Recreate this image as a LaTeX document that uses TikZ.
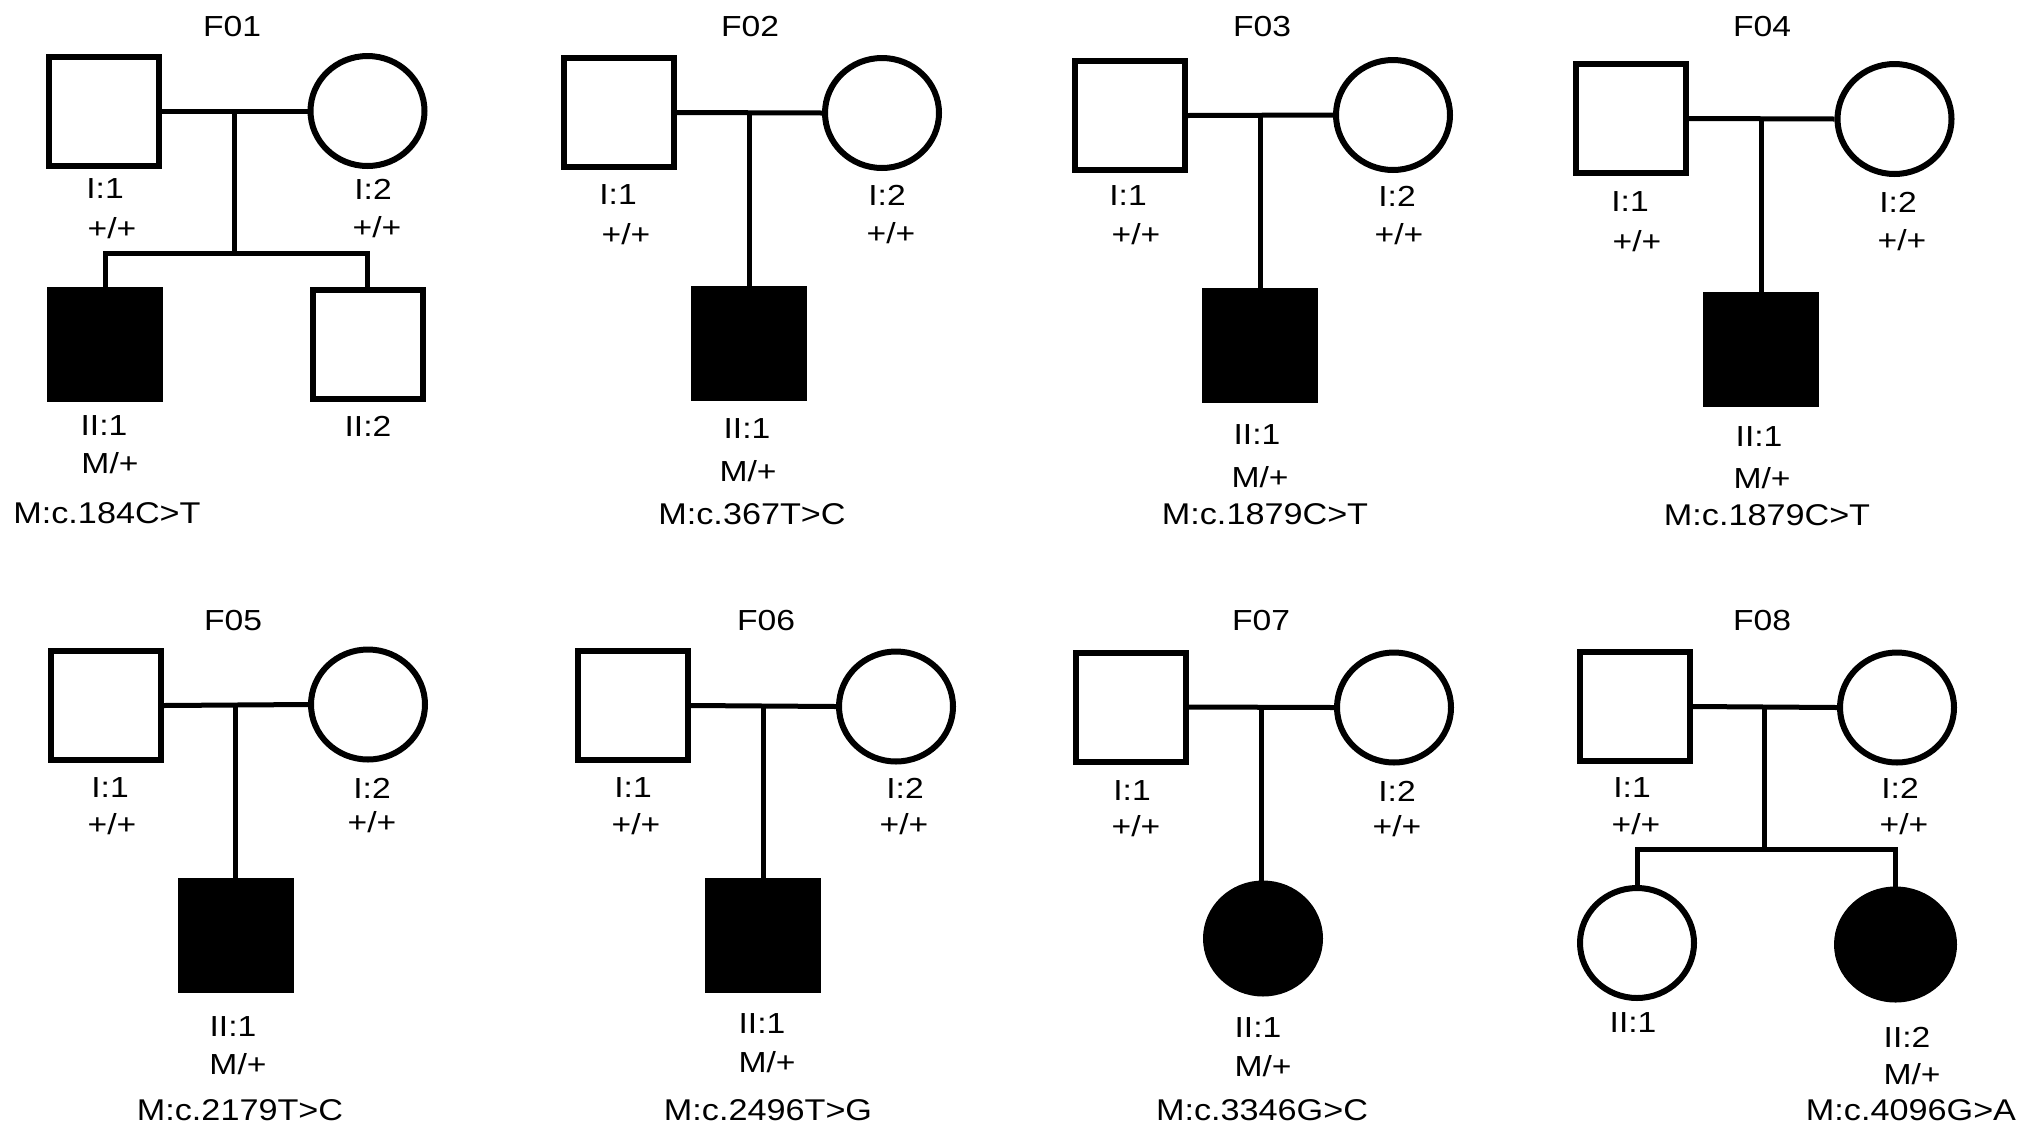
\documentclass[tikz,border=0pt]{standalone}
\usepackage{fontspec}
\setmainfont{Liberation Sans}
\newfontfamily\lblfont{Liberation Sans}[FakeStretch=1.16]
\newfontfamily\mutfont{Liberation Sans}[FakeStretch=1.14]
\usetikzlibrary{shapes.geometric,calc}
\begin{document}
\begin{tikzpicture}[x=1pt,y=-1pt,
  male/.style={rectangle,draw,line width=6pt,minimum width=110pt,minimum height=109pt,inner sep=0pt},
  female/.style={ellipse,draw,line width=6pt,minimum width=114pt,minimum height=110pt,inner sep=0pt},
  aff/.style={fill=black},
  lbl/.style={inner sep=0pt,font=\lblfont\fontsize{29}{33}\selectfont},
  mut/.style={inner sep=0pt,font=\mutfont\fontsize{30}{34}\selectfont},
  ln/.style={line width=5pt}]
\fill[white] (0,0) rectangle (2031,1133);
\useasboundingbox (0,0) rectangle (2031,1133);

% ---------------- F01 ----------------
\node[lbl] (t1) at (232,27) {F01};
\node[male] (f1a) at (104,111) {};
\node[female] (f1b) at (367.5,111) {};
\node[male,aff] (f1c) at (105,344) {};
\node[male] (f1d) at (367.5,344.5) {};
\coordinate (m1) at ($(f1a.east)!0.5!(f1b.west)$);
\coordinate (s1) at (m1 |- 0,253);
\draw[ln] (f1a.east) -- (f1b.west);
\draw[ln] (m1) -- (s1);
\draw[ln] (f1c.north) |- (s1) -| (f1d.north);
\node[lbl] (l1a) at (105,189) {I:1};
\node[lbl] (g1a) at (112,228) {+/+};
\node[lbl] (l1b) at (373,189) {I:2};
\node[lbl] (g1b) at (377,227) {+/+};
\node[lbl] (l1c) at (104,426) {II:1};
\node[lbl] (g1c) at (110,463) {M/+};
\node[mut] (v1) at (107,513) {M:c.184C>T};
\node[lbl] (l1d) at (368,426) {II:2};

% ---------------- F02 ----------------
\node[lbl] (t2) at (750,27) {F02};
\node[male] (f2a) at (618.5,112.5) {};
\node[female] (f2b) at (882,113) {};
\node[male,aff] (f2c) at (748.5,343) {};
\coordinate (m2) at ($(f2a.east)!0.5!(f2b.west)$);
\draw[ln] (f2a.east) -- (f2b.west);
\draw[ln] (m2) -- (m2 |- f2c.north);
\node[lbl] (l2a) at (618,195) {I:1};
\node[lbl] (g2a) at (626,234) {+/+};
\node[lbl] (l2b) at (887,195) {I:2};
\node[lbl] (g2b) at (891,233) {+/+};
\node[lbl] (l2c) at (747,429) {II:1};
\node[lbl] (g2c) at (748,471) {M/+};
\node[mut] (v2) at (752,514) {M:c.367T>C};

% ---------------- F03 ----------------
\node[lbl] (t3) at (1262,27) {F03};
\node[male] (f3a) at (1130,115.5) {};
\node[female] (f3b) at (1393,115) {};
\node[male,aff] (f3c) at (1259.5,345) {};
\coordinate (m3) at ($(f3a.east)!0.5!(f3b.west)$);
\draw[ln] (f3a.east) -- (f3b.west);
\draw[ln] (m3) -- (m3 |- f3c.north);
\node[lbl] (l3a) at (1128,196) {I:1};
\node[lbl] (g3a) at (1136,234) {+/+};
\node[lbl] (l3b) at (1397,196) {I:2};
\node[lbl] (g3b) at (1399,234) {+/+};
\node[lbl] (l3c) at (1257,435) {II:1};
\node[lbl] (g3c) at (1260,477) {M/+};
\node[mut] (v3) at (1265,514) {M:c.1879C>T};

% ---------------- F04 ----------------
\node[lbl] (t4) at (1762,27) {F04};
\node[male] (f4a) at (1631,118.5) {};
\node[female] (f4b) at (1894.5,119) {};
\node[male,aff] (f4c) at (1761,349) {};
\coordinate (m4) at ($(f4a.east)!0.5!(f4b.west)$);
\draw[ln] (f4a.east) -- (f4b.west);
\draw[ln] (m4) -- (m4 |- f4c.north);
\node[lbl] (l4a) at (1630,202) {I:1};
\node[lbl] (g4a) at (1637,241) {+/+};
\node[lbl] (l4b) at (1898,202) {I:2};
\node[lbl] (g4b) at (1902,240) {+/+};
\node[lbl] (l4c) at (1759,437) {II:1};
\node[lbl] (g4c) at (1762,478) {M/+};
\node[mut] (v4) at (1767,515) {M:c.1879C>T};

% ---------------- F05 ----------------
\node[lbl] (t5) at (233,621) {F05};
\node[male] (f5a) at (105.5,705.5) {};
\node[female] (f5b) at (368,704.5) {};
\node[male,aff] (f5c) at (235.5,935.5) {};
\coordinate (m5) at ($(f5a.east)!0.5!(f5b.west)$);
\draw[ln] (f5a.east) -- (f5b.west);
\draw[ln] (m5) -- (m5 |- f5c.north);
\node[lbl] (l5a) at (110,788) {I:1};
\node[lbl] (g5a) at (112,824) {+/+};
\node[lbl] (l5b) at (372,788) {I:2};
\node[lbl] (g5b) at (372,822) {+/+};
\node[lbl] (l5c) at (233,1027) {II:1};
\node[lbl] (g5c) at (238,1064) {M/+};
\node[mut] (v5) at (240,1110) {M:c.2179T>C};

% ---------------- F06 ----------------
\node[lbl] (t6) at (766,621) {F06};
\node[male] (f6a) at (633,705.5) {};
\node[female] (f6b) at (896,706.5) {};
\node[male,aff] (f6c) at (762.5,935.5) {};
\coordinate (m6) at ($(f6a.east)!0.5!(f6b.west)$);
\draw[ln] (f6a.east) -- (f6b.west);
\draw[ln] (m6) -- (m6 |- f6c.north);
\node[lbl] (l6a) at (633,788) {I:1};
\node[lbl] (g6a) at (636,824) {+/+};
\node[lbl] (l6b) at (905,788) {I:2};
\node[lbl] (g6b) at (904,824) {+/+};
\node[lbl] (l6c) at (762,1024) {II:1};
\node[lbl] (g6c) at (767,1062) {M/+};
\node[mut] (v6) at (768,1110) {M:c.2496T>G};

% ---------------- F07 ----------------
\node[lbl] (t7) at (1261,621) {F07};
\node[male] (f7a) at (1130.5,707) {};
\node[female] (f7b) at (1394,707.5) {};
\node[female,aff] (f7c) at (1263,938.5) {};
\coordinate (m7) at ($(f7a.east)!0.5!(f7b.west)$);
\draw[ln] (f7a.east) -- (f7b.west);
\draw[ln] (m7) -- (m7 |- f7c.north);
\node[lbl] (l7a) at (1132,791) {I:1};
\node[lbl] (g7a) at (1136,826) {+/+};
\node[lbl] (l7b) at (1397,791) {I:2};
\node[lbl] (g7b) at (1397,826) {+/+};
\node[lbl] (l7c) at (1258,1028) {II:1};
\node[lbl] (g7c) at (1263,1066) {M/+};
\node[mut] (v7) at (1262,1110) {M:c.3346G>C};

% ---------------- F08 ----------------
\node[lbl] (t8) at (1762,621) {F08};
\node[male] (f8a) at (1634.5,706.5) {};
\node[female] (f8b) at (1897,707.5) {};
\node[female] (f8c) at (1637,943) {};
\node[female,aff,minimum width=117pt] (f8d) at (1895.5,944.5) {};
\coordinate (m8) at ($(f8a.east)!0.5!(f8b.west)$);
\coordinate (s8) at (m8 |- 0,849);
\draw[ln] (f8a.east) -- (f8b.west);
\draw[ln] (m8) -- (s8);
\draw[ln] (f8c.north) |- (s8) -| (f8d.north);
\node[lbl] (l8a) at (1632,788) {I:1};
\node[lbl] (g8a) at (1636,824) {+/+};
\node[lbl] (l8b) at (1900,788) {I:2};
\node[lbl] (g8b) at (1904,824) {+/+};
\node[lbl] (l8c) at (1633,1023) {II:1};
\node[lbl] (l8d) at (1907,1037) {II:2};
\node[lbl] (g8d) at (1912,1074) {M/+};
\node[mut] (v8) at (1911,1110) {M:c.4096G>A};
\end{tikzpicture}
\end{document}
